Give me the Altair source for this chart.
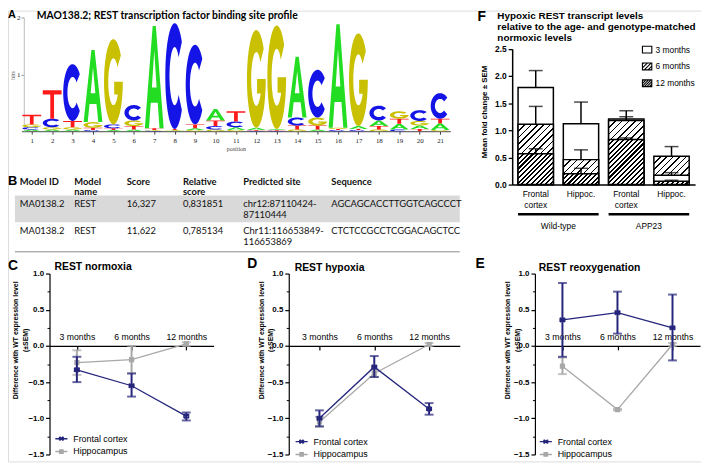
import altair as alt
import numpy as np
import pandas as pd

VW, VH = 701, 456


def vx(x):
    return x - 8


def vy(y):
    return y - 8


SANS = "Liberation Sans"
SERIF = "Liberation Serif"
TFONT = "Lato"
NAVY = "#25257c"
GRAY = "#a8a8a8"

# ---------------- Panel A: sequence logo data ----------------
LOGO_POSITIONS = list(range(1, 22))
LOGO_LETTERS = ["ACGT", "AGCT", "AGTC", "CTGA", "ATCG", "ATGC", "CGTA", "AGTC", "GATC", "GCTA", "GACT",
                "CTAG", "CTAG", "GTCA", "ATGC", "CTGA", "CTAG", "GTAC", "CATG", "TAGC", "GATC"]
LOGO_BITS = [
    [0.03, 0.04, 0.05, 0.17],
    [0.03, 0.04, 0.15, 0.50],
    [0.03, 0.04, 0.11, 1.00],
    [0.02, 0.04, 0.10, 1.27],
    [0.02, 0.03, 0.07, 1.50],
    [0.03, 0.06, 0.10, 0.27],
    [0.01, 0.01, 0.03, 1.80],
    [0.01, 0.01, 0.02, 1.86],
    [0.02, 0.03, 0.07, 1.40],
    [0.03, 0.06, 0.10, 0.20],
    [0.02, 0.05, 0.10, 0.18],
    [0.01, 0.01, 0.04, 1.72],
    [0.01, 0.01, 0.02, 1.82],
    [0.03, 0.07, 0.14, 1.07],
    [0.03, 0.07, 0.14, 0.84],
    [0.02, 0.02, 0.02, 1.82],
    [0.02, 0.02, 0.05, 1.63],
    [0.03, 0.06, 0.10, 0.26],
    [0.03, 0.10, 0.09, 0.13],
    [0.04, 0.06, 0.08, 0.19],
    [0.02, 0.12, 0.08, 0.45],
]
LOGO_COLORS = {"A": "#22dd22", "C": "#1414e6", "G": "#c8c000", "T": "#ff1a1a"}

# ---------------- Panel B: table ----------------
TABLE_HEADER = ["Model ID", "Model\nname", "Score", "Relative\nscore", "Predicted site", "Sequence"]
TABLE_ROW1 = ["MA0138.2", "REST", "16,327", "0,831851", "chr12:87110424-\n87110444", "AGCAGCACCTTGGTCAGCCCT"]
TABLE_ROW2 = ["MA0138.2", "REST", "11,622", "0,785134", "Chr11:116653849-\n116653869", "CTCTCCGCCTCGGACAGCTCC"]

# ---------------- Panel F: bars ----------------
F_TISSUE = ["Frontal cortex", "Hippoc.", "Frontal cortex", "Hippoc."]
F_GENOTYPE = ["Wild-type", "Wild-type", "APP23", "APP23"]
F_SERIES = ["3 months", "6 months", "12 months"]
F_MEAN_3M = [1.79, 1.12, 1.21, 0.17]
F_MEAN_6M = [1.11, 0.46, 1.18, 0.52]
F_MEAN_12M = [0.57, 0.20, 0.83, 0.06]
F_UP_3M = [2.10, 1.52, 1.36, 0.22]
F_UP_6M = [1.44, 0.64, 1.25, 0.70]
F_UP_12M = [0.66, 0.30, 0.86, 0.08]

# ---------------- Panels C, D, E ----------------
MONTHS = ["3 months", "6 months", "12 months"]
SERIES = ["Frontal cortex", "Hippocampus"]
C_FC, C_FC_LO, C_FC_HI = [-0.33, -0.55, -0.97], [-0.50, -0.70, -1.03], [-0.15, -0.38, -0.92]
C_HC, C_HC_LO, C_HC_HI = [-0.23, -0.19, 0.03], [-0.40, -0.38, 0.00], [-0.06, 0.00, 0.05]
D_FC, D_FC_LO, D_FC_HI = [-1.00, -0.29, -0.87], [-1.11, -0.43, -0.95], [-0.89, -0.14, -0.79]
D_HC, D_HC_LO, D_HC_HI = [-1.05, -0.38, 0.02], [-1.12, -0.43, 0.00], [-0.98, -0.33, 0.04]
E_FC, E_FC_LO, E_FC_HI = [0.36, 0.46, 0.25], [-0.15, 0.17, -0.20], [0.87, 0.75, 0.71]
E_HC, E_HC_LO, E_HC_HI = [-0.28, -0.88, 0.02], [-0.39, -0.89, 0.00], [-0.16, -0.87, 0.04]
Y_TICKS = [-1.5, -1.0, -0.5, 0.0, 0.5, 1.0]
Y_MINOR = [-1.25, -0.75, -0.25, 0.25, 0.75]


# ======================= helpers =======================
def note(text, x, y, size, bold=True, font=SANS, align="left", baseline="middle", color="black", lh=None):
    kw = dict(text=text, fontSize=size, fontWeight="bold" if bold else "normal", font=font,
              align=align, baseline=baseline, color=color)
    if lh:
        kw["lineHeight"] = lh
        kw["lineBreak"] = "\n"
    return alt.Chart(pd.DataFrame({"a": [0]})).mark_text(**kw).encode(
        x=alt.value(vx(x)), y=alt.value(vy(y)))


def _arc(r, a0, a1, n):
    t = np.radians(np.linspace(a0, a1, n))
    return [(r * np.cos(a), -r * np.sin(a)) for a in t]


def _area(pts):
    s = 0.0
    for (x1, y1), (x2, y2) in zip(pts, pts[1:] + pts[:1]):
        s += x1 * y2 - x2 * y1
    return s / 2


GLYPHS = {
    "T": [[(-1, -1), (1, -1), (1, -0.7), (0.2, -0.7), (0.2, 1), (-0.2, 1), (-0.2, -0.7), (-1, -0.7)]],
    "A": [[(-1, 1), (-0.17, -1), (0.17, -1), (1, 1), (0.56, 1), (0.37, 0.5), (-0.37, 0.5), (-0.56, 1)],
          [(-0.25, 0.2), (0.25, 0.2), (0, -0.52)]],
    "C": [_arc(1, 40, 320, 48) + _arc(0.55, 320, 40, 40)],
    "G": [_arc(1, 38, 360, 48) + [(0.08, 0.0), (0.08, 0.3)] + _arc(0.55, 360 - 33.06, 38, 40)],
}


def glyph_path(letter, k):
    polys = GLYPHS[letter]
    out = []
    s0 = _area(polys[0])
    for i, p in enumerate(polys):
        if i > 0 and np.sign(_area(p)) == np.sign(s0):
            p = p[::-1]
        out.append("M" + "L".join(f"{x * k:.3f},{y:.3f}" for x, y in p) + "Z")
    return "".join(out)


LAYERS = []

# ======================= Panel A =======================
DX = 3
PXB = (130 - 15) / 2.0
LETTER_W = 19.0
rows = []
for pos, letters, bits in zip(LOGO_POSITIONS, LOGO_LETTERS, LOGO_BITS):
    base = 0.0
    for L, h in zip(letters, bits):
        hp = h * PXB
        rows.append(dict(pos=pos, letter=L, yc=base + h / 2, path=glyph_path(L, LETTER_W / hp),
                         size=hp * hp, color=LOGO_COLORS[L]))
        base += h
logo_df = pd.DataFrame(rows)

logo_x = alt.Scale(domain=[0.5, 21.5], range=[vx(18.7 + DX), vx(452.4 + DX)], nice=False, zero=False)
logo_y = alt.Scale(domain=[0, 2], range=[vy(130), vy(15)], nice=False)
LAYERS.append(alt.Chart(logo_df).mark_point(filled=True, opacity=1, strokeWidth=0).encode(
    x=alt.X("pos:Q", scale=logo_x, axis=alt.Axis(
        orient="bottom", offset=vy(130) - VH, values=LOGO_POSITIONS, format="d", grid=False,
        labelFont=SERIF, labelFontSize=7, labelColor="#222", labelPadding=2, tickSize=3,
        tickColor="#444", domainColor="#444", domainWidth=1, labelFlush=False, labelOverlap=False,
        title="position", titleFont=SERIF, titleFontSize=6, titleFontWeight="normal",
        titleColor="#444", titlePadding=3)),
    y=alt.Y("yc:Q", scale=logo_y, axis=alt.Axis(
        orient="left", offset=-vx(21 + DX), values=[1, 2], format="d", grid=False,
        labelFont=SERIF, labelFontSize=7, labelColor="#222", labelPadding=1, tickSize=3,
        tickColor="#999", domainColor="#bbb", title="bits", titleFont=SERIF, titleFontSize=6,
        titleFontWeight="normal", titleColor="#444", titleX=-11, titleY=vy(73),
        titleAngle=270, titleAlign="center", titleBaseline="middle")),
    shape=alt.Shape("path:N", scale=None),
    size=alt.Size("size:Q", scale=None),
    fill=alt.Fill("color:N", scale=None),
))

# ======================= Panel B =======================
COL_X = [20, 75, 128, 185, 246, 335]
header_y, row1_y, row2_y = 184, 207, 234


def table_text(values, y, bold):
    df = pd.DataFrame({"px": [vx(c) for c in COL_X], "py": [vy(y)] * len(values), "t": values})
    return alt.Chart(df).mark_text(
        align="left", baseline="alphabetic", font=TFONT, fontSize=9.5,
        fontWeight="bold" if bold else "normal", lineBreak="\n", lineHeight=11, color="#111"
    ).encode(x=alt.X("px:Q", scale=None, axis=None), y=alt.Y("py:Q", scale=None, axis=None), text="t:N")


LAYERS.append(alt.Chart(pd.DataFrame({"a": [0]})).mark_rect(color="#d9d9d9").encode(
    x=alt.value(vx(15)), x2=alt.value(vx(465)), y=alt.value(vy(195)), y2=alt.value(vy(222))))
LAYERS.append(alt.Chart(pd.DataFrame({"a": [0]})).mark_rule(color="#8a8a8a", strokeWidth=1).encode(
    x=alt.value(vx(15)), x2=alt.value(vx(465)), y=alt.value(vy(252))))
LAYERS += [table_text(TABLE_HEADER, header_y, True), table_text(TABLE_ROW1, row1_y, False),
           table_text(TABLE_ROW2, row2_y, False)]

# ======================= Panel F =======================
F_KEYS = [f"{g}|{t}" for g, t in zip(F_GENOTYPE, F_TISSUE)]
F_MEANS = [F_MEAN_3M, F_MEAN_6M, F_MEAN_12M]
F_UPS = [F_UP_3M, F_UP_6M, F_UP_12M]
f_rows = []
for s, means, ups in zip(F_SERIES, F_MEANS, F_UPS):
    for k, m, u in zip(F_KEYS, means, ups):
        f_rows.append(dict(key=k, series=s, v=m, up=u))
f_df = pd.DataFrame(f_rows)

F_R0, F_R1, F_PI, F_PO = vx(518), vx(703), 0.22, 0.13
F_YB, F_YT = 184, 46.7
fx = alt.Scale(type="band", domain=F_KEYS, range=[F_R0, F_R1], paddingInner=F_PI, paddingOuter=F_PO)
fy = alt.Scale(domain=[0, 2.5], range=[vy(F_YB), vy(F_YT)], nice=False)
f_x_axis = alt.Axis(orient="bottom", offset=vy(F_YB) - VH, title=None, ticks=False, grid=False,
                    labelExpr="split(split(datum.label, '|')[1], ' ')", labelFont=SANS, labelFontSize=8.5,
                    labelColor="black", labelLineHeight=11, labelPadding=5, labelAngle=0,
                    domainColor="black", domainWidth=1.5)
f_y_axis = alt.Axis(orient="left", offset=-vx(518), values=[0, 0.5, 1.0, 1.5, 2.0, 2.5], format=".1f",
                    grid=False, labelFont=SANS, labelFontSize=8.5, labelFontWeight="bold", labelColor="black",
                    labelPadding=2, tickSize=4, tickColor="black", tickWidth=1.3, domainColor="black",
                    domainWidth=1.5, title="Mean fold change ± SEM", titleFont=SANS, titleFontSize=8,
                    titleFontWeight="bold", titleColor="black", titleX=-28, titleY=vy(110),
                    titleAngle=270, titleAlign="center", titleBaseline="middle")

n = len(F_KEYS)
step = (F_R1 - F_R0) / (n - F_PI + 2 * F_PO)
bw = step * (1 - F_PI)
starts = [F_R0 + F_PO * step + i * step for i in range(n)]
PX_PER_UNIT = (F_YB - F_YT) / 2.5

# hatch styles: (line spacing px, line width px, background)
HATCH = {"3 months": None, "6 months": (4.6, 1.1, "white"), "12 months": (3.4, 1.5, "white")}


def hatch_fill(W, H, spacing, lw, bg):
    H = max(H, 0.5)
    s = (1 / H + 1 / W) / (1 / H ** 2 + 1 / W ** 2)
    L = (W + H) / np.sqrt(2)
    N = max(1, int(round(L / spacing)))
    f = min(0.9, lw / (L / N))
    stops = []
    for i in range(N):
        a = i / N
        b = (i + f) / N
        c = (i + 1) / N
        stops += [{"offset": round(a, 5), "color": "black"}, {"offset": round(b, 5), "color": "black"},
                  {"offset": round(b, 5), "color": bg}, {"offset": round(c, 5), "color": bg}]
    return {"gradient": "linear", "x1": 0, "y1": 0, "x2": s / H, "y2": s / W, "stops": stops}


# draw the tallest bar of each group first, so shorter ones stay in front
bar_specs = []
for ci, k in enumerate(F_KEYS):
    vals = [(F_MEANS[si][ci], si) for si in range(3)]
    for rank, (v, si) in enumerate(sorted(vals, key=lambda t: -t[0])):
        bar_specs.append((rank, ci, si, v))
bar_specs.sort(key=lambda t: (t[0], t[1]))
first_bar = True
for rank, ci, si, v in bar_specs:
    series = F_SERIES[si]
    hs = HATCH[series]
    fill = "white" if hs is None else hatch_fill(bw, v * PX_PER_UNIT, *hs)
    d = pd.DataFrame({"key": [F_KEYS[ci]], "v": [v]})
    LAYERS.append(alt.Chart(d).mark_bar(fill=fill, stroke="black", strokeWidth=1.5, opacity=1).encode(
        x=alt.X("key:N", scale=fx, axis=f_x_axis if first_bar else None, sort=F_KEYS),
        y=alt.Y("v:Q", scale=fy, axis=f_y_axis if first_bar else None)))
    first_bar = False

LAYERS.append(alt.Chart(f_df).mark_rule(color="black", strokeWidth=1.5).encode(
    x=alt.X("key:N", scale=fx, axis=None, sort=F_KEYS),
    y=alt.Y("v:Q", scale=fy, axis=None), y2="up:Q"))
LAYERS.append(alt.Chart(f_df).mark_tick(color="black", thickness=1.5, size=14, orient="horizontal").encode(
    x=alt.X("key:N", scale=fx, axis=None, sort=F_KEYS),
    y=alt.Y("up:Q", scale=fy, axis=None)))


# legend with hatched boxes
def _box_path(n_lines):
    p = "M-1,-0.72H1V0.72H-1Z"
    if n_lines:
        for x0 in np.linspace(-2.2, 1.0, n_lines):
            xa, ya = x0, 0.72
            xb, yb = x0 + 1.44, -0.72
            if xa < -1:
                ya -= (-1 - xa)
                xa = -1
            if xb > 1:
                yb += (xb - 1)
                xb = 1
            if xb > xa:
                p += f"M{xa:.3f},{ya:.3f}L{xb:.3f},{yb:.3f}"
    return p


leg_df = pd.DataFrame({"key": F_KEYS[:3], "v": [0, 0, 0], "series": F_SERIES})
LAYERS.append(alt.Chart(leg_df).mark_point(opacity=0, filled=False).encode(
    x=alt.X("key:N", scale=fx, axis=None, sort=F_KEYS),
    y=alt.Y("v:Q", scale=fy, axis=None),
    shape=alt.Shape("series:N", scale=alt.Scale(domain=F_SERIES,
                                                range=[_box_path(0), _box_path(5), _box_path(7)]),
                    legend=alt.Legend(orient="none", legendX=vx(649), legendY=vy(42), title=None,
                                      symbolSize=90, symbolStrokeColor="black", symbolFillColor="white",
                                      symbolStrokeWidth=1.1, symbolOpacity=1,
                                      labelFont=SANS, labelFontSize=8.5, labelColor="black",
                                      rowPadding=4, labelOffset=3, padding=0))))

groups = pd.DataFrame({"g": ["Wild-type", "APP23"], "a": [F_KEYS[0], F_KEYS[2]], "b": [F_KEYS[1], F_KEYS[3]]})
LAYERS.append(alt.Chart(groups).mark_rule(color="black", strokeWidth=2.5).encode(
    x=alt.X("a:N", scale=fx, axis=None, bandPosition=0, sort=F_KEYS),
    x2=alt.X2("b:N", bandPosition=1),
    y=alt.value(vy(214))))
wt_mid = (starts[0] + starts[1] + bw) / 2 + 8
app_mid = (starts[2] + starts[3] + bw) / 2 + 8

# ======================= Panels C, D, E =======================
Y_TOP, Y_BOT = 274, 457
MARK_FC = "M-1,-1L1,1M-1,1L1,-1M-1,-1L-1,1M1,-1L1,1"
LEG_FC = "M-1,0L1,0M-0.3,-0.3L0.3,0.3M-0.3,0.3L0.3,-0.3M-0.3,-0.3L-0.3,0.3M0.3,-0.3L0.3,0.3"
LEG_HC = "M-1,0L1,0M-0.27,-0.27L0.27,-0.27L0.27,0.27L-0.27,0.27Z"


def line_panel(fc, fc_lo, fc_hi, hc, hc_lo, hc_hi, ax_x, end_x, pad, title_x, leg_x, leg_y):
    xs = alt.Scale(type="point", domain=MONTHS, range=[vx(ax_x), vx(end_x)], padding=pad)
    ys = alt.Scale(domain=[-1.5, 1.0], range=[vy(Y_BOT), vy(Y_TOP)], nice=False, zero=False)
    y0 = vy(Y_TOP) + (1.0 / 2.5) * (Y_BOT - Y_TOP)
    xaxis = alt.Axis(orient="bottom", offset=y0 - VH, title=None, grid=False, labelAngle=0,
                     labelFont=SANS, labelFontSize=8.8, labelColor="black", labelPadding=-11,
                     labelBaseline="alphabetic", tickSize=4, tickColor="black", tickWidth=1.2,
                     domainColor="black", domainWidth=1.2)
    yaxis = alt.Axis(orient="left", offset=-vx(ax_x), values=Y_TICKS, format=".1f", grid=False,
                     labelFont=SANS, labelFontSize=8, labelFontWeight="bold", labelColor="black",
                     labelPadding=2, tickSize=4, tickColor="black", tickWidth=1.2,
                     domainColor="black", domainWidth=1.2,
                     title=["Difference with WT expression level", "(±SEM)"], titleFont=SANS,
                     titleFontSize=7, titleFontWeight="bold", titleColor="black", titleLineHeight=10,
                     titleX=title_x, titleY=vy(341), titleAngle=270, titleAlign="center",
                     titleBaseline="middle")
    minor = alt.Axis(orient="left", offset=-vx(ax_x), values=Y_MINOR, labels=False, domain=False,
                     grid=False, tickSize=2.5, tickColor="black", tickWidth=1, title=None)

    def sdf(v, lo, hi, name):
        return pd.DataFrame({"month": MONTHS, "idx": [0, 1, 2], "v": v, "lo": lo, "hi": hi, "series": name})

    def X(axis=None):
        return alt.X("month:N", scale=xs, sort=MONTHS, axis=axis)

    out = []
    first = True
    for name, v, lo, hi, col in [("Hippocampus", hc, hc_lo, hc_hi, GRAY),
                                 ("Frontal cortex", fc, fc_lo, fc_hi, NAVY)]:
        d = sdf(v, lo, hi, name)
        out.append(alt.Chart(d).mark_rule(color=col, strokeWidth=2).encode(
            x=X(xaxis if first else None), y=alt.Y("lo:Q", scale=ys, axis=yaxis if first else None),
            y2="hi:Q"))
        first = False
        for f in ["lo", "hi"]:
            out.append(alt.Chart(d).mark_tick(color=col, thickness=2, size=9, orient="horizontal").encode(
                x=X(), y=alt.Y(f"{f}:Q", scale=ys, axis=None)))
        out.append(alt.Chart(d).mark_line(color=col, strokeWidth=1.3).encode(
            x=X(), y=alt.Y("v:Q", scale=ys, axis=None), order="idx:Q"))
        if name == "Hippocampus":
            out.append(alt.Chart(d).mark_square(color=col, size=28, opacity=1).encode(
                x=X(), y=alt.Y("v:Q", scale=ys, axis=None)))
        else:
            out.append(alt.Chart(d).mark_point(shape=MARK_FC, color=col, size=20, strokeWidth=1.6,
                                               opacity=1, filled=False).encode(
                x=X(), y=alt.Y("v:Q", scale=ys, axis=None)))
    leg = alt.Legend(orient="none", legendX=vx(leg_x), legendY=vy(leg_y), title=None,
                     symbolSize=150, symbolStrokeWidth=1.5, symbolOpacity=1, labelFont=SANS,
                     labelFontSize=9, labelColor="black", rowPadding=1, labelOffset=5, padding=0)
    dummy = pd.DataFrame({"month": MONTHS[:2], "v": [0, 0], "series": SERIES})
    out.append(alt.Chart(dummy).mark_point(opacity=0, filled=False).encode(
        x=X(), y=alt.Y("v:Q", scale=ys, axis=minor),
        color=alt.Color("series:N", scale=alt.Scale(domain=SERIES, range=[NAVY, GRAY]), legend=leg),
        fill=alt.Fill("series:N", scale=alt.Scale(domain=SERIES, range=[NAVY, GRAY]), legend=leg),
        shape=alt.Shape("series:N", scale=alt.Scale(domain=SERIES, range=[LEG_FC, LEG_HC]), legend=leg)))
    return out


LAYERS += line_panel(C_FC, C_FC_LO, C_FC_HI, C_HC, C_HC_LO, C_HC_HI, 50, 216, 0.5, -34.5, 55, 434)
LAYERS += line_panel(D_FC, D_FC_LO, D_FC_HI, D_HC, D_HC_LO, D_HC_HI, 292, 465, 0.56, -28, 298, 437)
LAYERS += line_panel(E_FC, E_FC_LO, E_FC_HI, E_HC, E_HC_LO, E_HC_HI, 541, 708, 0.5, -28, 545, 437)

# ======================= annotations =======================
LAYERS += [
    note("A", 8, 12, 11),
    note("MAO138.2; REST transcription factor binding site profile", 37, 13, 10.5, font=TFONT),
    note("B", 8, 180, 13),
    note("F", 483, 15, 14),
    note("Hypoxic REST transcript levels\nrelative to the age- and genotype-matched\nnormoxic levels",
         503, 8, 10, baseline="top", lh=11.5),
    note("Wild-type", wt_mid, 226, 8.5, bold=False, align="center"),
    note("APP23", app_mid, 226, 8.5, bold=False, align="center"),
    note("C", 8, 266, 14),
    note("REST normoxia", 55, 267, 10.5),
    note("D", 250, 264, 14),
    note("REST hypoxia", 298, 268, 10.5),
    note("E", 481, 264, 14),
    note("REST reoxygenation", 545, 268, 10.5),
]

chart = alt.layer(*LAYERS).resolve_scale(
    x="independent", y="independent", color="independent", fill="independent", shape="independent",
    size="independent"
).resolve_axis(x="independent", y="independent").resolve_legend(
    color="independent", fill="independent", shape="independent"
).properties(
    width=VW, height=VH, autosize=alt.AutoSizeParams(type="none"), padding=0
).configure_view(stroke=None).configure(background="white", font=SANS)

chart.save("out.html", embed_options={"renderer": "svg", "actions": False})
